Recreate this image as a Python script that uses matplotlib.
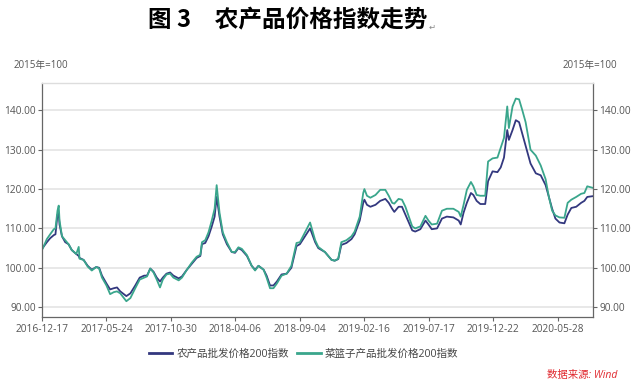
import numpy as np
import pandas as pd
import matplotlib
matplotlib.use("Agg")
import matplotlib.pyplot as plt

plt.rcParams['font.family'] = ['Open Sans', 'Noto Sans CJK SC', 'DejaVu Sans']

# data (2015=100)
dates = [
    "2016-12-17", "2016-12-29", "2017-01-06", "2017-01-15", "2017-01-19", "2017-01-24",
    "2017-01-27", "2017-01-29", "2017-02-04", "2017-02-12", "2017-02-20", "2017-02-28",
    "2017-03-11", "2017-03-17", "2017-03-19", "2017-03-29", "2017-04-08", "2017-04-18",
    "2017-04-29", "2017-05-06", "2017-05-13", "2017-05-24", "2017-06-02", "2017-06-11",
    "2017-06-19", "2017-06-27", "2017-07-12", "2017-07-22", "2017-08-03", "2017-08-14",
    "2017-08-25", "2017-09-01", "2017-09-09", "2017-09-17", "2017-09-25", "2017-10-03",
    "2017-10-10", "2017-10-19", "2017-10-28", "2017-11-05", "2017-11-18", "2017-11-26",
    "2017-12-08", "2017-12-20", "2018-01-01", "2018-01-10", "2018-01-14", "2018-01-22",
    "2018-01-30", "2018-02-07", "2018-02-14", "2018-02-19", "2018-02-26", "2018-03-06",
    "2018-03-16", "2018-03-28", "2018-04-05", "2018-04-13", "2018-04-21", "2018-05-03",
    "2018-05-14", "2018-05-22", "2018-05-30", "2018-06-11", "2018-06-18", "2018-06-26",
    "2018-07-04", "2018-07-12", "2018-07-23", "2018-08-04", "2018-08-15", "2018-08-27",
    "2018-09-04", "2018-09-17", "2018-09-30", "2018-10-13", "2018-10-21", "2018-11-07",
    "2018-11-24", "2018-12-02", "2018-12-11", "2018-12-19", "2019-01-01", "2019-01-14",
    "2019-01-22", "2019-02-04", "2019-02-13", "2019-02-16", "2019-02-22", "2019-03-02",
    "2019-03-14", "2019-03-25", "2019-04-06", "2019-04-14", "2019-04-22", "2019-04-27",
    "2019-05-07", "2019-05-15", "2019-05-23", "2019-05-31", "2019-06-08", "2019-06-15",
    "2019-06-27", "2019-07-09", "2019-07-16", "2019-07-24", "2019-08-06", "2019-08-18",
    "2019-08-30", "2019-09-15", "2019-09-28", "2019-10-03", "2019-10-10", "2019-10-18",
    "2019-10-28", "2019-11-03", "2019-11-11", "2019-11-20", "2019-12-02", "2019-12-09",
    "2019-12-20", "2020-01-01", "2020-01-09", "2020-01-17", "2020-01-25", "2020-01-29",
    "2020-02-07", "2020-02-15", "2020-02-23", "2020-03-02", "2020-03-10", "2020-03-22",
    "2020-04-04", "2020-04-16", "2020-04-28", "2020-05-06", "2020-05-14", "2020-05-22",
    "2020-06-01", "2020-06-13", "2020-06-21", "2020-06-30", "2020-07-12", "2020-07-24",
    "2020-08-01", "2020-08-08", "2020-08-22",
]

farm_index = [
    104.8, 106.5, 107.5, 108.3, 108.5, 113.5,
    113.8, 111.0, 108.0, 106.5, 106.0, 104.5,
    103.5, 103.0, 102.5, 102.0, 100.5, 99.5,
    100.2, 100.0, 98.0, 96.0, 94.5, 94.8,
    95.0, 94.0, 92.8, 93.5, 95.5, 97.5,
    98.0, 98.0, 99.8, 99.0, 97.5, 96.5,
    97.5, 98.5, 98.8, 98.0, 97.3, 97.8,
    99.5, 101.0, 102.5, 103.0, 106.0, 106.3,
    108.0, 110.5, 113.0, 118.0, 113.0, 108.5,
    106.0, 104.0, 103.8, 105.0, 104.5, 103.0,
    100.5, 99.5, 100.5, 99.5, 98.0, 95.5,
    95.5, 96.5, 98.3, 98.5, 100.0, 105.5,
    106.0, 108.0, 110.0, 106.5, 105.0, 104.0,
    102.0, 101.8, 102.2, 105.8, 106.3, 107.3,
    108.5, 112.0, 116.5, 117.3, 116.0, 115.5,
    116.0, 117.0, 117.5, 116.5, 115.0, 114.2,
    115.5, 115.5, 113.5, 111.5, 109.5, 109.2,
    109.8, 112.0, 111.0, 109.8, 110.0, 112.5,
    113.0, 112.8, 112.0, 111.0, 114.0, 116.5,
    119.0, 118.5, 117.0, 116.2, 116.2, 122.0,
    124.5, 124.3, 125.5, 128.0, 135.0, 132.5,
    135.0, 137.5, 137.0, 134.0, 131.0, 126.5,
    124.0, 123.5, 121.0, 118.0, 115.0, 112.5,
    111.5, 111.3, 113.5, 115.2, 115.5, 116.5,
    117.0, 118.0, 118.2,
]

basket_index = [
    104.5, 107.3, 108.5, 109.8, 110.0, 114.5,
    115.8, 112.0, 108.0, 107.0, 106.0, 104.5,
    103.5, 105.3, 102.3, 102.0, 100.3, 99.3,
    100.2, 99.8, 97.5, 95.5, 93.3, 93.8,
    94.0, 93.5, 91.5, 92.3, 94.8, 97.0,
    97.5, 97.8, 99.8, 98.8, 97.0, 95.0,
    97.0, 98.3, 98.5, 97.5, 96.8, 97.5,
    99.5, 101.3, 102.8, 103.3, 106.5, 107.0,
    109.0, 112.0, 115.0, 121.0, 114.0, 109.0,
    106.5, 104.0, 104.0, 105.2, 104.8, 103.2,
    100.5, 99.3, 100.5, 99.5, 97.5, 94.8,
    94.8, 96.0, 98.0, 98.5, 100.5, 106.3,
    106.5, 109.0, 111.5, 107.0, 105.3, 104.0,
    102.0, 101.8, 102.3, 106.5, 107.0, 108.0,
    109.2, 113.0, 119.0, 120.0, 118.3, 117.8,
    118.5, 119.8, 119.8, 118.3, 116.5, 116.3,
    117.5, 117.3, 115.5, 113.0, 110.5, 110.0,
    110.5, 113.2, 112.0, 111.0, 111.2, 114.5,
    115.0, 115.0, 114.2, 113.0, 116.0, 119.8,
    121.8, 120.7, 118.5, 118.3, 118.3, 127.0,
    127.8, 128.0, 130.5, 133.0, 141.0, 135.5,
    141.0, 143.0, 142.8, 140.0, 137.0, 130.0,
    128.5, 126.0, 122.5, 118.0, 114.5, 113.3,
    112.8, 112.7, 116.5, 117.3, 118.0, 118.8,
    119.0, 120.7, 120.3,
]

tick_dates = ["2016-12-17", "2017-05-24", "2017-10-30", "2018-04-06", "2018-09-04",
              "2019-02-16", "2019-07-17", "2019-12-22", "2020-05-28"]
yticks = [90, 100, 110, 120, 130, 140]

series_names = ["农产品批发价格200指数", "菜篮子产品批发价格200指数"]
series_colors = ["#33387f", "#3aa68c"]

# category-like axis: tick dates are evenly spaced on the chart
td = pd.to_datetime(tick_dates)
anchor_days = list((td - td[0]).days) + [(td[-1] - td[0]).days + 158]
anchor_pos = list(range(len(td) + 1))


def to_pos(ds):
    d = (pd.to_datetime(ds) - td[0]).days
    return np.interp(d, anchor_days, anchor_pos)


x = to_pos(dates)

fig = plt.figure(figsize=(6.38, 3.87), dpi=100)
ax = fig.add_axes([0.0658, 0.181, 0.8636, 0.605])

for vals, name, c in zip([farm_index, basket_index], series_names, series_colors):
    ax.plot(x, vals, color=c, lw=1.3, label=name)

ax.set_xlim(x[0], x[-1])
ax.set_ylim(87.5, 147)
ax.set_yticks(yticks)
ax.set_yticklabels(["%.2f" % v for v in yticks])
ax.set_xticks(to_pos(tick_dates))
ax.set_xticklabels(tick_dates)
ax.yaxis.grid(True, color="#e4e4e4", lw=1.2)
ax.set_axisbelow(True)

ax.tick_params(axis="y", which="both", left=True, right=True, labelleft=True,
               labelright=True, length=3, width=0.8, color="#666666",
               labelsize=7.3, labelcolor="#555555", pad=1.5)
ax.tick_params(axis="x", length=3, width=0.8, color="#666666",
               labelsize=7.3, labelcolor="#555555", pad=2)

for s in ["left", "right", "bottom"]:
    ax.spines[s].set_color("#666666")
    ax.spines[s].set_linewidth(0.9)
ax.spines["top"].set_color("#dddddd")
ax.spines["top"].set_linewidth(1.0)

fig.text(0.232, 0.948, "图 3\u3000农产品价格指数走势", fontsize=17, fontweight="bold",
         ha="left", va="center", family=["Noto Sans CJK SC", "DejaVu Sans"])
fig.text(0.671, 0.93, "\u21b5", fontsize=6, color="#888888", ha="left", va="center",
         family=["DejaVu Sans"])

fig.text(0.021, 0.832, "2015年=100", fontsize=7, color="#555555", ha="left", va="center")
fig.text(0.968, 0.832, "2015年=100", fontsize=7, color="#555555", ha="right", va="center")

leg = ax.legend(loc="center", bbox_to_anchor=(0.476, 0.085), bbox_transform=fig.transFigure,
                ncol=2, frameon=False, fontsize=7.6, handlelength=2.2, handletextpad=0.4,
                columnspacing=0.8)
for line in leg.get_lines():
    line.set_linewidth(2.0)
for t in leg.get_texts():
    t.set_color("#444444")

fig.text(0.967, 0.031, "数据来源: Wind", fontsize=7.5, color="#e0282e", style="italic",
         ha="right", va="center")

fig.savefig("out.png", dpi=100)
